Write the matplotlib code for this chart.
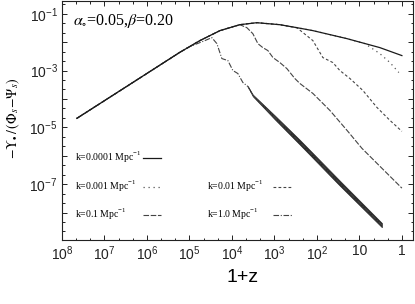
import matplotlib
matplotlib.use('Agg')
import matplotlib.pyplot as plt
from matplotlib.ticker import FixedLocator, FixedFormatter, NullFormatter

# 1+z and -Y/(Phi-Psi), one pair of lists per k
z_k00001 = [4.44e7, 2.51e6, 1.67e5, 5.66e4, 1.91e4, 6.49e3, 2.58e3, 743, 296, 124, 19.7, 3.30, 1.0]
y_k00001 = [2.07e-5, 3.25e-4, 4.39e-3, 1.13e-2, 2.54e-2, 4.11e-2, 4.83e-2, 4.11e-2, 3.23e-2,
            2.54e-2, 1.33e-2, 6.41e-3, 3.36e-3]

z_k0001 = [4.44e7, 2.51e6, 1.67e5, 5.66e4, 1.91e4, 6.49e3, 2.58e3, 743, 296, 124, 19.7, 7.43,
           3.30, 1.91, 1.18]
y_k0001 = [2.07e-5, 3.25e-4, 4.39e-3, 1.13e-2, 2.54e-2, 4.11e-2, 4.83e-2, 4.11e-2, 3.23e-2,
           2.54e-2, 1.33e-2, 8.85e-3, 3.94e-3, 1.91e-3, 8.51e-4]

z_k001 = [4.44e7, 2.51e6, 1.67e5, 5.66e4, 1.91e4, 6.49e3, 2.58e3, 743, 296, 124, 72.3, 42.1,
          28.8, 16.7, 8.28, 3.87, 1.91, 1.0]
y_k001 = [2.07e-5, 3.25e-4, 4.39e-3, 1.13e-2, 2.54e-2, 4.11e-2, 4.83e-2, 4.11e-2, 3.23e-2,
          1.13e-2, 2.86e-3, 1.91e-3, 1.0e-3, 5.24e-4, 1.99e-4, 5.04e-5, 1.76e-5, 7.24e-6]

z_k01 = [4.44e7, 2.51e6, 1.67e5, 5.66e4, 1.91e4, 6.49e3, 4.44e3, 3.21e3, 2.44e3, 1.87e3, 1.42e3,
         1.08e3, 743, 508, 330, 251, 124, 49.4, 18.7, 8.73, 2.96, 1.0]
y_k01 = [2.07e-5, 3.25e-4, 4.39e-3, 1.13e-2, 2.54e-2, 4.11e-2, 3.23e-2, 1.99e-2, 8.85e-3, 6.41e-3,
         5.04e-3, 2.86e-3, 1.91e-3, 1.17e-3, 5.24e-4, 3.5e-4, 1.56e-4, 3.94e-5, 7.24e-6, 1.83e-6,
         3.64e-7, 7.24e-8]

z_k1 = [4.44e7, 2.51e6, 1.67e5, 9.73e4, 4.32e4, 2.96e4, 2.25e4, 1.72e4, 1.24e4, 9.46e3, 7.23e3,
        5.51e3, 4.21e3, 3.21e3, 1.87e3, 973, 251, 28.8, 2.96]
y_k1 = [2.07e-5, 3.25e-4, 4.39e-3, 6.95e-3, 1.13e-2, 1.44e-2, 8.85e-3, 2.64e-3, 2.24e-3, 1.0e-3,
        7.85e-4, 3.79e-4, 2.75e-4, 1.33e-4, 5.92e-5, 2.24e-5, 2.98e-6, 1.08e-7, 3.64e-9]

# the k=1.0 curve oscillates so fast it shows up as a dark band
band_z = [4.21e3, 3.21e3, 1.87e3, 973, 251, 28.8, 2.96]
band_hi = [2.80e-4, 1.42e-4, 6.60e-5, 2.60e-5, 3.60e-6, 1.32e-7, 4.30e-9]
band_lo = [2.70e-4, 1.24e-4, 5.30e-5, 1.90e-5, 2.45e-6, 8.80e-8, 3.05e-9]

labels = ['k=0.0001 Mpc$^{\\mathregular{-1}}$', 'k=0.001 Mpc$^{\\mathregular{-1}}$',
          'k=0.01 Mpc$^{\\mathregular{-1}}$', 'k=0.1 Mpc$^{\\mathregular{-1}}$',
          'k=1.0 Mpc$^{\\mathregular{-1}}$']

xtick_vals = [1e8, 1e7, 1e6, 1e5, 1e4, 1e3, 1e2, 10, 1]
xtick_labels = ['$\\mathregular{10^{8}}$', '$\\mathregular{10^{7}}$', '$\\mathregular{10^{6}}$',
                '$\\mathregular{10^{5}}$', '$\\mathregular{10^{4}}$', '$\\mathregular{10^{3}}$',
                '$\\mathregular{10^{2}}$', '10', '1']
ytick_exps = list(range(-9, 1))
ytick_labels_shown = {-1: '$\\mathregular{10^{-1}}$', -3: '$\\mathregular{10^{-3}}$',
                      -5: '$\\mathregular{10^{-5}}$', -7: '$\\mathregular{10^{-7}}$'}

fig = plt.figure(figsize=(4.15, 3.04), dpi=100)
ax = fig.add_axes([0.149, 0.2105, 0.846, 0.787])

col = '#444444'
ax.fill_between(band_z, band_lo, band_hi, color='#2a2a2a', lw=0.5, edgecolor='#2a2a2a')
ax.plot(z_k1, y_k1, color=col, lw=0.8, linestyle=(0, (5, 1.5, 1, 1.5)))
ax.plot(z_k01, y_k01, color=col, lw=0.8, linestyle=(0, (5, 1.5)))
ax.plot(z_k001, y_k001, color=col, lw=0.8, linestyle=(0, (2.5, 2)))
ax.plot(z_k0001, y_k0001, color='#555555', lw=0.9, linestyle=(0, (1, 3)))
ax.plot(z_k00001, y_k00001, color='#1a1a1a', lw=0.9)

ax.set_xscale('log')
ax.set_yscale('log')
ax.set_xlim(1e8, 0.55)
ax.set_ylim(1.08e-9, 0.286)

ax.xaxis.set_major_locator(FixedLocator(xtick_vals))
ax.xaxis.set_major_formatter(FixedFormatter(xtick_labels))
xminor = []
for e in range(0, 8):
    xminor += [10 ** (e + 1 / 3), 10 ** (e + 2 / 3)]
ax.xaxis.set_minor_locator(FixedLocator(xminor))
ax.xaxis.set_minor_formatter(NullFormatter())

ax.yaxis.set_major_locator(FixedLocator([10.0 ** e for e in ytick_exps]))
ax.yaxis.set_major_formatter(FixedFormatter([ytick_labels_shown.get(e, '') for e in ytick_exps]))
yminor = []
for e in range(-9, 0):
    yminor += [10 ** (e + 1 / 3), 10 ** (e + 2 / 3)]
ax.yaxis.set_minor_locator(FixedLocator(yminor))
ax.yaxis.set_minor_formatter(NullFormatter())

ax.tick_params(which='both', direction='in', top=True, right=True, width=0.7, colors='#222222')
ax.tick_params(which='major', length=3.5, pad=3)
ax.tick_params(which='minor', length=1.8)
for lab in ax.get_xticklabels() + ax.get_yticklabels():
    lab.set_family('Liberation Sans')
    lab.set_fontsize(10)
for s in ax.spines.values():
    s.set_linewidth(0.8)
    s.set_color('#222222')

fig.text(243 / 415, 1 - 278 / 304, '1+z', family='Liberation Sans', fontsize=14,
         ha='center', va='center')
fig.text(13 / 415, 1 - 118 / 304, '$-\\Upsilon_{\\bullet}\\,/\\,(\\Phi_{s}\\!-\\!\\Psi_{s})$',
         math_fontfamily='stix', fontsize=10, rotation=90, ha='center', va='center')

ax.text(0.031, 0.917, '$\\alpha_{\\circ}$=0.05,$\\beta$=0.20', transform=ax.transAxes,
        family='Liberation Serif', math_fontfamily='stix', fontsize=11.5, va='center')

# legend drawn by hand: text left, sample right, two columns
styles = [dict(color='#1a1a1a', lw=0.9), dict(color='#555555', lw=0.9, linestyle=(0, (1, 3))),
          dict(color=col, lw=0.8, linestyle=(0, (2.5, 2))), dict(color=col, lw=0.8, linestyle=(0, (5, 1.5))),
          dict(color=col, lw=0.8, linestyle=(0, (5, 1.5, 1, 1.5)))]
spots = [(0.037, 0.231, 0.282, 0.346), (0.037, 0.231, 0.282, 0.225), (0.413, 0.601, 0.655, 0.225),
         (0.037, 0.231, 0.282, 0.108), (0.413, 0.601, 0.655, 0.108)]
for lab, st, (xt, x0, x1, yy) in zip(labels, styles, spots):
    ax.text(xt, yy, lab, transform=ax.transAxes, family='Liberation Serif', fontsize=7, va='center')
    ax.plot([x0, x1], [yy - 0.004, yy - 0.004], transform=ax.transAxes, **st)

fig.savefig('out.png', dpi=100)
